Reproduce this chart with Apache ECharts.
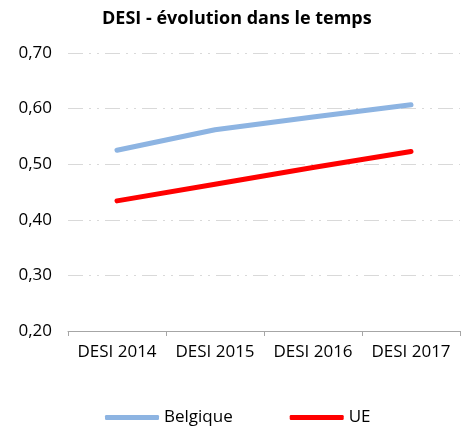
<!DOCTYPE html>
<html><head><meta charset="utf-8">
<script src="https://cdn.jsdelivr.net/npm/echarts@6/dist/echarts.min.js"></script>
<style>html,body{margin:0;padding:0;background:#fff}#c{width:461px;height:439px}</style>
</head><body><div id="c"></div>
<script>
const categories = ['DESI 2014', 'DESI 2015', 'DESI 2016', 'DESI 2017'];
const belgique = [0.525, 0.562, 0.585, 0.607];
const ue = [0.434, 0.464, 0.494, 0.523];
const title = 'DESI - évolution dans le temps';
const FONT = '"Open Sans", sans-serif';
const chart = echarts.init(document.getElementById('c'), null, {renderer: 'canvas'});
chart.setOption({
  animation: false,
  backgroundColor: '#fff',
  title: {text: title, left: 97, top: 5,
    textStyle: {fontFamily: FONT, fontSize: 18, fontWeight: 'bold', color: '#000'}},
  grid: {left: 68, right: 1, top: 53, bottom: 108, containLabel: false},
  legend: {
    top: 404, left: 100, itemWidth: 54, itemHeight: 5, itemGap: 57,
    icon: 'roundRect',
    textStyle: {fontFamily: FONT, fontSize: 17, color: '#000'},
    data: ['Belgique', 'UE']
  },
  xAxis: {
    type: 'category', data: categories, boundaryGap: true,
    axisLine: {lineStyle: {color: '#a6a6a6', width: 1}},
    axisTick: {show: true, length: 5, inside: false, lineStyle: {color: '#a6a6a6'}},
    axisLabel: {fontFamily: FONT, fontSize: 17, color: '#000', margin: 13, interval: 0}
  },
  yAxis: {
    type: 'value', min: 0.2, max: 0.7, interval: 0.1,
    axisLine: {show: false}, axisTick: {show: false},
    axisLabel: {fontFamily: FONT, fontSize: 17, color: '#000', margin: 16,
      formatter: v => v.toFixed(2).replace('.', ',')},
    splitLine: {lineStyle: {color: '#d9d9d9', width: 1, type: [15, 6, 2, 6, 2, 6]}}
  },
  series: [
    {name: 'Belgique', type: 'line', data: belgique, showSymbol: false, symbol: 'none',
      color: '#8db4e2', lineStyle: {width: 5, color: '#8db4e2', cap: 'round', join: 'round'}},
    {name: 'UE', type: 'line', data: ue, showSymbol: false, symbol: 'none',
      color: '#ff0000', lineStyle: {width: 5, color: '#ff0000', cap: 'round', join: 'round'}}
  ]
});
</script></body></html>
